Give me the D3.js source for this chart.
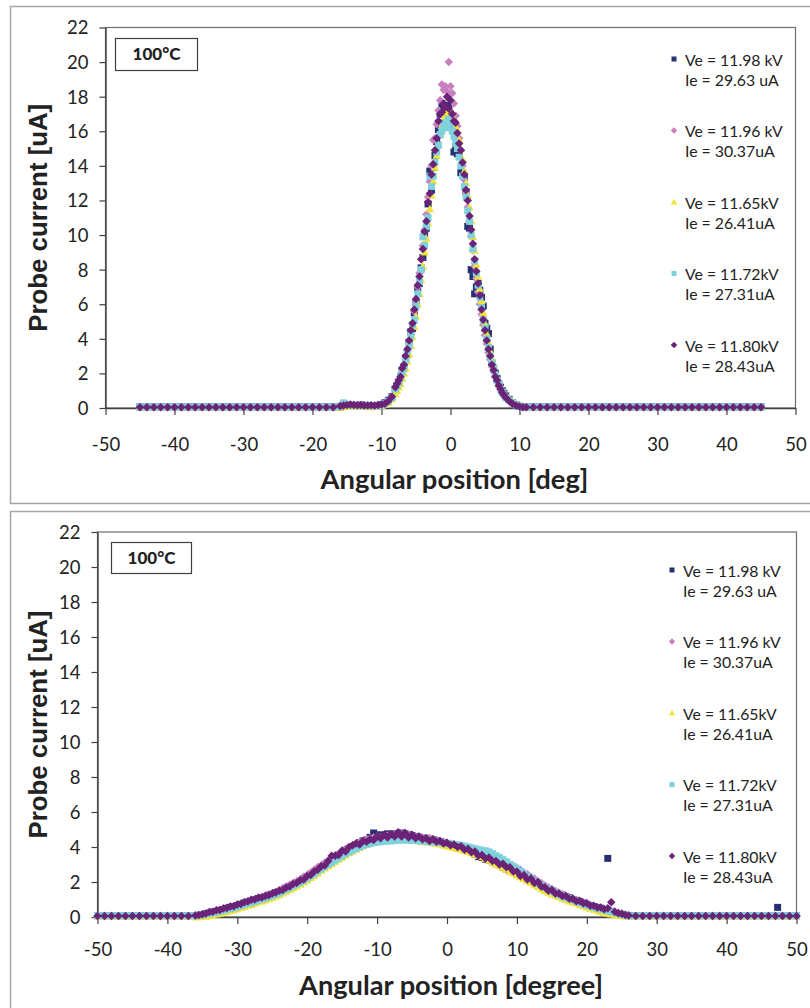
<!DOCTYPE html>
<html>
<head>
<meta charset="utf-8">
<script src="https://cdn.jsdelivr.net/npm/d3@7"></script>
<style>
  body { margin: 0; background: #fff; }
  svg text { font-family: Lato, "Open Sans", sans-serif; fill: #222; }
</style>
</head>
<body>
<div id="chart"></div>
<script>
// ---------- data ----------
var xTickValues = [-50, -40, -30, -20, -10, 0, 10, 20, 30, 40, 50];
var yTickValues = [0, 2, 4, 6, 8, 10, 12, 14, 16, 18, 20, 22];

var legendVe = ["Ve = 11.98 kV", "Ve = 11.96 kV", "Ve = 11.65kV", "Ve = 11.72kV", "Ve = 11.80kV"];
var legendIe = ["Ie = 29.63 uA", "Ie = 30.37uA", "Ie = 26.41uA", "Ie = 27.31uA", "Ie = 28.43uA"];

// top chart: flat part (all series sit on ~0)
var topBaseAngles = [-45, -44, -43, -42, -41, -40, -39, -38, -37, -36, -35, -34, -33, -32, -31, -30,
  -29, -28, -27, -26, -25, -24, -23, -22, -21, -20, -19, -18, -17,
  11, 12, 13, 14, 15, 16, 17, 18, 19, 20, 21, 22, 23, 24, 25, 26, 27, 28, 29, 30,
  31, 32, 33, 34, 35, 36, 37, 38, 39, 40, 41, 42, 43, 44, 45];
var topBaseLevel = [0.06, 0.05, 0.04, 0.06, 0.05];

// top chart: peak region
var topPeakAngles = [-16, -15.5, -15, -14.5, -14, -13.5, -13, -12.5, -12, -11.5, -11, -10.5, -10, -9.5, -9, -8.5,
  -8, -7.75, -7.5, -7.25, -7, -6.75, -6.5, -6.25, -6, -5.75, -5.5, -5.25, -5, -4.75, -4.5, -4.25,
  -4, -3.75, -3.5, -3.25, -3, -2.75, -2.5, -2.25, -2, -1.75, -1.5, -1.25, -1, -0.75, -0.5, -0.25,
  0, 0.25, 0.5, 0.75, 1, 1.25, 1.5, 1.75, 2, 2.25, 2.5, 2.75, 3, 3.25, 3.5, 3.75,
  4, 4.25, 4.5, 4.75, 5, 5.25, 5.5, 5.75, 6, 6.25, 6.5, 6.75, 7, 7.25, 7.5, 7.75, 8,
  8.5, 9, 9.5, 10, 10.5];

var topNavy = [0.06, 0.1, 0.14, 0.16, 0.15, 0.14, 0.17, 0.15, 0.13, 0.12, 0.14, 0.13, 0.2, 0.3, 0.45, 0.65,
  1.1, 1.3, 1.5, 1.8, 2.2, 2.3, 2.9, 3.1, 3.8, 4.4, 4.6, 5.5, 6.1, 6.9, 7.2, 8.1,
  8.7, 10.0, 10.4, 11.8, 13.7, 12.6, 13.9, 14.6, 15.4, 16.1, 17.0, 17.6, 17.3, 17.1, 16.8, 17.5,
  17.0, 16.2, 14.8, 15.1, 14.7, 14.7, 13.6, 13.6, 13.4, 12.5, 10.5, 10.4, 8.0, 7.6, 6.6, 7.0,
  7.2, 6.8, 6.4, 5.9, 4.9, 4.6, 4.3, 3.4, 2.6, 2.3, 2.0, 1.7, 1.4, 1.2, 1.0, 0.85, 0.7,
  0.5, 0.3, 0.18, 0.1, 0.06];
var topPink = [0.1, 0.14, 0.17, 0.16, 0.18, 0.17, 0.15, 0.16, 0.15, 0.14, 0.12, 0.15, 0.2, 0.26, 0.4, 0.6,
  1.0, 1.3, 1.5, 1.8, 2.1, 2.5, 2.9, 3.3, 3.8, 4.3, 4.9, 5.6, 6.2, 7.0, 7.8, 8.6,
  9.4, 10.3, 11.2, 12.2, 13.1, 14.0, 15.5, 15.6, 16.4, 17.2, 17.8, 18.7, 18.4, 18.6, 18.3, 20.0,
  18.6, 18.2, 17.6, 16.9, 16.3, 15.6, 14.9, 14.0, 13.2, 12.4, 11.6, 10.8, 9.9, 9.1, 8.2, 7.5,
  6.7, 6.0, 5.4, 4.8, 4.2, 3.7, 3.2, 2.8, 2.4, 2.1, 1.8, 1.5, 1.3, 1.1, 0.9, 0.75, 0.6,
  0.45, 0.3, 0.2, 0.12, 0.07];
var topYellow = [0.04, 0.06, 0.08, 0.1, 0.1, 0.08, 0.09, 0.1, 0.08, 0.06, 0.08, 0.1, 0.12, 0.2, 0.3, 0.5,
  0.8, 1.0, 1.2, 1.4, 1.7, 2.0, 2.3, 2.7, 3.1, 3.6, 4.1, 4.7, 5.3, 6.0, 6.6, 7.4,
  8.2, 9.0, 9.8, 10.7, 11.5, 12.3, 13.1, 13.9, 14.6, 15.2, 15.8, 16.3, 16.7, 17.0, 17.1, 17.2,
  17.1, 16.9, 16.6, 16.3, 16.0, 15.5, 15.0, 14.4, 13.7, 13.0, 12.3, 11.6, 10.8, 9.9, 9.1, 8.3,
  7.6, 6.9, 6.2, 5.5, 4.9, 4.3, 3.8, 3.3, 2.9, 2.5, 2.1, 1.8, 1.5, 1.3, 1.1, 0.9, 0.75,
  0.55, 0.38, 0.24, 0.14, 0.08];
var topCyan = [0.1, 0.3, 0.2, 0.15, 0.14, 0.15, 0.12, 0.14, 0.15, 0.13, 0.12, 0.14, 0.16, 0.25, 0.4, 0.6,
  1.1, 1.3, 1.5, 1.8, 2.1, 2.4, 2.8, 3.3, 3.6, 4.2, 4.8, 5.1, 5.9, 6.6, 7.3, 8.0,
  9.9, 9.4, 10.5, 11.0, 13.4, 12.8, 13.4, 14.2, 14.8, 15.2, 15.8, 16.0, 16.4, 16.5, 16.2, 16.7,
  16.4, 16.0, 15.7, 15.3, 15.0, 14.5, 14.0, 13.4, 12.8, 12.2, 11.4, 10.8, 10.0, 9.2, 8.5, 7.8,
  7.1, 6.4, 5.8, 5.1, 4.6, 4.0, 3.5, 3.0, 2.6, 2.3, 1.9, 1.6, 1.4, 1.1, 0.9, 0.8, 0.6,
  0.45, 0.3, 0.18, 0.1, 0.06];
var topPurple = [0.12, 0.15, 0.18, 0.2, 0.17, 0.16, 0.18, 0.15, 0.14, 0.16, 0.15, 0.18, 0.2, 0.25, 0.4, 0.65,
  1.2, 1.4, 1.6, 1.8, 2.3, 2.5, 3.0, 3.4, 3.9, 4.5, 4.9, 5.7, 6.3, 7.1, 7.6, 8.6,
  9.2, 10.2, 10.8, 11.9, 12.4, 13.5, 14.1, 14.9, 15.6, 16.6, 17.0, 17.1, 17.6, 17.4, 18.0, 17.3,
  17.8, 17.0, 16.6, 16.5, 15.9, 15.3, 14.9, 14.2, 13.5, 12.6, 12.0, 11.1, 10.3, 9.5, 8.6, 7.9,
  7.2, 6.5, 5.7, 5.1, 4.5, 3.9, 3.4, 3.0, 2.5, 2.2, 1.8, 1.6, 1.3, 1.1, 0.9, 0.75, 0.6,
  0.4, 0.25, 0.15, 0.09, 0.05];

// bottom chart: flat part
var bottomBaseAngles = [-50, -49, -48, -47, -46, -45, -44, -43, -42, -41, -40, -39, -38, -37,
  27, 28, 29, 30, 31, 32, 33, 34, 35, 36, 37, 38, 39, 40, 41, 42, 43, 44, 45, 46, 47, 48, 49, 50];
var bottomBaseLevel = [0.07, 0.06, 0.04, 0.08, 0.06];

// bottom chart: broad hump
var bottomPeakAngles = [-36, -35.5, -35, -34.5, -34, -33.5, -33, -32.5, -32, -31.5,
  -31, -30.5, -30, -29.5, -29, -28.5, -28, -27.5, -27, -26.5,
  -26, -25.5, -25, -24.5, -24, -23.5, -23, -22.5, -22, -21.5,
  -21, -20.5, -20, -19.5, -19, -18.5, -18, -17.5, -17, -16.5,
  -16, -15.5, -15, -14.5, -14, -13.5, -13, -12.5, -12, -11.5,
  -11, -10.5, -10, -9.5, -9, -8.5, -8, -7.5, -7, -6.5,
  -6, -5.5, -5, -4.5, -4, -3.5, -3, -2.5, -2, -1.5,
  -1, -0.5, 0, 0.5, 1, 1.5, 2, 2.5, 3, 3.5,
  4, 4.5, 5, 5.5, 6, 6.5, 7, 7.5, 8, 8.5,
  9, 9.5, 10, 10.5, 11, 11.5, 12, 12.5, 13, 13.5,
  14, 14.5, 15, 15.5, 16, 16.5, 17, 17.5, 18, 18.5,
  19, 19.5, 20, 20.5, 21, 21.5, 22, 22.5, 23, 23.5,
  24, 24.5, 25, 25.5, 26];

var bottomNavy = [0.05, 0.1, 0.12, 0.18, 0.22, 0.28, 0.32, 0.38, 0.42, 0.5,
  0.55, 0.58, 0.65, 0.72, 0.8, 0.85, 0.9, 0.98, 1.05, 1.1,
  1.15, 1.25, 1.3, 1.4, 1.45, 1.55, 1.65, 1.75, 1.85, 1.95,
  2.05, 2.2, 2.3, 2.45, 2.55, 2.7, 2.85, 3.0, 3.1, 3.25,
  3.4, 3.55, 3.65, 3.8, 3.9, 4.0, 4.1, 4.25, 4.35, 4.4,
  4.55, 4.8, 4.7, 4.65, 4.7, 4.75, 4.7, 4.75, 4.7, 4.8,
  4.75, 4.7, 4.65, 4.6, 4.55, 4.5, 4.5, 4.45, 4.4, 4.35,
  4.3, 4.25, 4.2, 4.1, 4.05, 4.0, 3.95, 3.85, 3.8, 3.7,
  3.6, 3.45, 3.4, 3.3, 3.25, 3.15, 3.05, 2.95, 2.85, 2.75,
  2.65, 2.55, 2.45, 2.35, 2.25, 2.15, 2.05, 1.95, 1.85, 1.75,
  1.65, 1.55, 1.45, 1.4, 1.3, 1.25, 1.15, 1.1, 1.0, 0.95,
  0.88, 0.8, 0.72, 0.65, 0.6, 0.55, 0.5, 0.42, 0.38, 0.32,
  0.26, 0.2, 0.15, 0.1, 0.07];
var bottomPink = [0.04, 0.07, 0.1, 0.14, 0.2, 0.26, 0.32, 0.38, 0.44, 0.5,
  0.56, 0.62, 0.68, 0.75, 0.82, 0.88, 0.95, 1.0, 1.08, 1.15,
  1.2, 1.28, 1.35, 1.45, 1.55, 1.65, 1.75, 1.85, 1.95, 2.05,
  2.15, 2.3, 2.4, 2.55, 2.7, 2.85, 2.95, 3.1, 3.25, 3.35,
  3.5, 3.6, 3.75, 3.9, 4.0, 4.1, 4.2, 4.3, 4.35, 4.45,
  4.5, 4.55, 4.6, 4.55, 4.6, 4.65, 4.6, 4.7, 4.65, 4.75,
  4.8, 4.7, 4.65, 4.6, 4.6, 4.55, 4.5, 4.5, 4.45, 4.4,
  4.35, 4.3, 4.25, 4.2, 4.15, 4.1, 4.05, 4.0, 3.95, 3.9,
  3.85, 3.75, 3.7, 3.6, 3.5, 3.45, 3.35, 3.25, 3.2, 3.1,
  3.0, 2.9, 2.8, 2.7, 2.55, 2.45, 2.3, 2.2, 2.05, 1.95,
  1.8, 1.7, 1.6, 1.5, 1.4, 1.3, 1.2, 1.12, 1.05, 0.98,
  0.9, 0.82, 0.75, 0.68, 0.62, 0.55, 0.5, 0.45, 0.4, 0.35,
  0.3, 0.25, 0.2, 0.14, 0.08];
var bottomYellow = [0.0, 0.0, 0.02, 0.03, 0.06, 0.1, 0.15, 0.2, 0.25, 0.3,
  0.35, 0.4, 0.45, 0.52, 0.58, 0.65, 0.7, 0.78, 0.85, 0.9,
  0.95, 1.02, 1.1, 1.18, 1.25, 1.35, 1.45, 1.55, 1.65, 1.75,
  1.85, 1.98, 2.1, 2.22, 2.35, 2.5, 2.65, 2.78, 2.9, 3.02,
  3.15, 3.28, 3.4, 3.52, 3.65, 3.75, 3.85, 3.95, 4.05, 4.12,
  4.2, 4.25, 4.3, 4.32, 4.35, 4.38, 4.4, 4.4, 4.42, 4.42,
  4.4, 4.4, 4.38, 4.35, 4.32, 4.3, 4.28, 4.25, 4.22, 4.18,
  4.15, 4.1, 4.05, 4.0, 3.95, 3.9, 3.85, 3.8, 3.72, 3.65,
  3.58, 3.5, 3.42, 3.32, 3.22, 3.12, 3.02, 2.92, 2.82, 2.72,
  2.6, 2.5, 2.38, 2.28, 2.18, 2.05, 1.95, 1.82, 1.72, 1.6,
  1.5, 1.4, 1.3, 1.22, 1.15, 1.05, 0.98, 0.9, 0.84, 0.78,
  0.7, 0.62, 0.55, 0.48, 0.42, 0.36, 0.3, 0.25, 0.2, 0.15,
  0.1, 0.07, 0.05, 0.04, 0.03];
var bottomCyan = [0.06, 0.1, 0.12, 0.16, 0.2, 0.24, 0.28, 0.33, 0.38, 0.43,
  0.48, 0.52, 0.58, 0.65, 0.72, 0.78, 0.82, 0.9, 0.96, 1.02,
  1.08, 1.15, 1.22, 1.3, 1.38, 1.48, 1.58, 1.68, 1.78, 1.88,
  1.98, 2.1, 2.22, 2.35, 2.48, 2.62, 2.75, 2.88, 3.0, 3.12,
  3.25, 3.38, 3.5, 3.62, 3.72, 3.82, 3.92, 4.0, 4.08, 4.15,
  4.2, 4.25, 4.28, 4.3, 4.32, 4.35, 4.35, 4.38, 4.38, 4.4,
  4.4, 4.4, 4.38, 4.38, 4.35, 4.35, 4.32, 4.3, 4.3, 4.28,
  4.25, 4.22, 4.2, 4.18, 4.15, 4.12, 4.1, 4.05, 4.0, 3.95,
  3.9, 3.85, 3.82, 3.78, 3.72, 3.62, 3.5, 3.4, 3.28, 3.15,
  3.0, 2.88, 2.75, 2.6, 2.45, 2.3, 2.18, 2.05, 1.92, 1.8,
  1.68, 1.58, 1.48, 1.38, 1.28, 1.2, 1.12, 1.05, 0.98, 0.9,
  0.82, 0.75, 0.68, 0.62, 0.56, 0.5, 0.45, 0.4, 0.35, 0.3,
  0.25, 0.2, 0.15, 0.1, 0.06];
var bottomPurple = [0.08, 0.12, 0.16, 0.2, 0.28, 0.3, 0.38, 0.4, 0.48, 0.52,
  0.6, 0.62, 0.72, 0.75, 0.85, 0.88, 0.98, 1.0, 1.1, 1.12,
  1.2, 1.25, 1.35, 1.4, 1.5, 1.55, 1.68, 1.75, 1.9, 1.95,
  2.1, 2.15, 2.35, 2.4, 2.6, 2.7, 2.9, 2.95, 3.2, 3.5,
  3.5, 3.55, 3.8, 3.75, 4.0, 4.1, 4.2, 4.15, 4.35, 4.3,
  4.45, 4.4, 4.6, 4.5, 4.7, 4.55, 4.75, 4.6, 4.85, 4.6,
  4.8, 4.55, 4.7, 4.5, 4.6, 4.45, 4.5, 4.35, 4.45, 4.3,
  4.35, 4.2, 4.25, 4.1, 4.15, 4.0, 4.05, 3.85, 3.9, 3.7,
  3.75, 3.5, 3.55, 3.35, 3.4, 3.2, 3.2, 3.0, 3.05, 2.85,
  2.85, 2.6, 2.6, 2.35, 2.4, 2.15, 2.2, 1.95, 2.0, 1.75,
  1.7, 1.5, 1.55, 1.35, 1.35, 1.2, 1.2, 1.05, 1.05, 0.9,
  0.92, 0.78, 0.78, 0.65, 0.65, 0.55, 0.55, 0.45, 0.5, 0.85,
  0.3, 0.22, 0.18, 0.12, 0.08];

// two stray navy points in the bottom chart
var bottomNavyExtraAngles = [23, 47.3];
var bottomNavyExtraValues = [3.35, 0.55];

// ---------- styles ----------
var seriesColors = ["#262f72", "#c97fbf", "#f2e33a", "#7fd2dc", "#6b2377"];
var seriesShapes = ["square", "diamond", "triangle", "square", "diamond"];
var markerSizes = { square: 7, diamond: 8.5, triangle: 8.5 };

var svgWidth = 810;
var svgHeight = 1008;

var svg = d3.select("#chart")
    .append("svg")
    .attr("width", svgWidth)
    .attr("height", svgHeight);

function markerPath(shape, s) {
    var h = s / 2;
    if (shape === "square") return `M${-h},${-h}h${s}v${s}h${-s}Z`;
    if (shape === "diamond") return `M0,${-h}L${h},0L0,${h}L${-h},0Z`;
    return `M0,${-h}L${h},${h * 0.75}L${-h},${h * 0.75}Z`;
}

// scale a text's font size so it fills a target width
function fitWidth(textSel, target) {
    var size = parseFloat(textSel.style("font-size"));
    var w = textSel.node().getComputedTextLength();
    if (w > 0) textSel.style("font-size", (size * target / w) + "px");
}

var panels = [
    {
        frame: { x: 10.5, y: 6.5, h: 497 },
        plot: { left: 105.5, right: 795.5, top: 27.5, bottom: 408 },
        tickLabelY: 445, titleY: 479, xTitle: "Angular position [deg]", xTitleW: 268,
        legendY: 60, legendX: 685,
        box: { x: 115.5, y: 38.5, w: 82, h: 32 },
        baseAngles: topBaseAngles, baseLevel: topBaseLevel,
        peakAngles: topPeakAngles,
        series: [topNavy, topPink, topYellow, topCyan, topPurple],
        extraAngles: [], extraValues: []
    },
    {
        frame: { x: 10.5, y: 511.5, h: 520 },
        plot: { left: 97.5, right: 796.5, top: 532, bottom: 917 },
        tickLabelY: 950, titleY: 985, xTitle: "Angular position [degree]", xTitleW: 304,
        legendY: 571, legendX: 683,
        box: { x: 111.5, y: 542.5, w: 80, h: 31 },
        baseAngles: bottomBaseAngles, baseLevel: bottomBaseLevel,
        peakAngles: bottomPeakAngles,
        series: [bottomNavy, bottomPink, bottomYellow, bottomCyan, bottomPurple],
        extraAngles: bottomNavyExtraAngles, extraValues: bottomNavyExtraValues
    }
];

panels.forEach(function(p) {
    var g = svg.append("g");

    // outer frame of each picture
    g.append("rect")
        .attr("x", p.frame.x).attr("y", p.frame.y)
        .attr("width", 820).attr("height", p.frame.h)
        .attr("fill", "none").attr("stroke", "#a6a6a6").attr("stroke-width", 1.5);

    var xScale = d3.scaleLinear().domain([-50, 50]).range([p.plot.left, p.plot.right]);
    var yScale = d3.scaleLinear().domain([0, 22]).range([p.plot.bottom, p.plot.top]);

    // plot area border
    g.append("rect")
        .attr("x", p.plot.left).attr("y", p.plot.top)
        .attr("width", p.plot.right - p.plot.left)
        .attr("height", p.plot.bottom - p.plot.top)
        .attr("fill", "none").attr("stroke", "#6e6e6e").attr("stroke-width", 1.2);

    // axes (plain hyphen for negatives, like the original)
    var plainFormat = d => String(d);
    var yAxis = g.append("g")
        .attr("transform", `translate(${p.plot.left},0)`)
        .call(d3.axisLeft(yScale).tickValues(yTickValues).tickFormat(plainFormat)
            .tickSize(6).tickPadding(11).tickSizeOuter(0));
    var xAxis = g.append("g")
        .attr("transform", `translate(0,${p.plot.bottom})`)
        .call(d3.axisBottom(xScale).tickValues(xTickValues).tickFormat(plainFormat)
            .tickSize(7).tickSizeOuter(0));

    [yAxis, xAxis].forEach(function(ax) {
        ax.select(".domain").attr("stroke", "#404040").attr("stroke-width", 1.4);
        ax.selectAll(".tick line").attr("stroke", "#404040").attr("stroke-width", 1.2);
        ax.selectAll("text")
            .style("font-size", "18.5px")
            .attr("fill", "#222");
    });
    yAxis.selectAll("text").attr("dy", "0.35em");
    xAxis.selectAll("text").attr("y", p.tickLabelY - p.plot.bottom).attr("dy", "0.35em");

    // markers, one series after another
    p.series.forEach(function(values, i) {
        var shape = seriesShapes[i];
        var pts = p.baseAngles.map(a => [a, p.baseLevel[i]])
            .concat(p.peakAngles.map((a, k) => [a, values[k]]));
        if (i === 0) {
            pts = pts.concat(p.extraAngles.map((a, k) => [a, p.extraValues[k]]));
        }
        g.append("g").selectAll("path")
            .data(pts.filter(d => d[1] != null))
            .enter()
            .append("path")
            .attr("transform", d => `translate(${xScale(d[0])},${yScale(d[1])})`)
            .attr("d", markerPath(shape, markerSizes[shape]))
            .attr("fill", seriesColors[i]);
    });

    // legend
    legendVe.forEach(function(label, i) {
        var y = p.legendY + i * 71.5;
        g.append("path")
            .attr("transform", `translate(${p.legendX - 11},${y - 1})`)
            .attr("d", markerPath(seriesShapes[i], seriesShapes[i] === "square" ? 5 : 6.5))
            .attr("fill", seriesColors[i]);
        g.append("text")
            .attr("x", p.legendX).attr("y", y).attr("dy", "0.35em")
            .style("font-size", "15.8px")
            .text(label);
        g.append("text")
            .attr("x", p.legendX).attr("y", y + 20).attr("dy", "0.35em")
            .style("font-size", "15.8px")
            .text(legendIe[i]);
    });

    // temperature box
    g.append("rect")
        .attr("x", p.box.x).attr("y", p.box.y)
        .attr("width", p.box.w).attr("height", p.box.h)
        .attr("fill", "#fff").attr("stroke", "#404040").attr("stroke-width", 1.2);
    g.append("text")
        .attr("x", p.box.x + p.box.w / 2).attr("y", p.box.y + p.box.h / 2)
        .attr("dy", "0.35em").attr("text-anchor", "middle")
        .style("font-size", "17px").style("font-weight", "900")
        .text("100°C");

    // axis titles
    var xt = g.append("text")
        .attr("x", (p.plot.left + p.plot.right) / 2 + 4).attr("y", p.titleY)
        .attr("dy", "0.35em").attr("text-anchor", "middle")
        .style("font-size", "23px").style("font-weight", "bold")
        .text(p.xTitle);
    fitWidth(xt, p.xTitleW);

    var yt = g.append("text")
        .attr("transform", `translate(38,${(p.plot.top + p.plot.bottom) / 2}) rotate(-90)`)
        .attr("dy", "0.35em").attr("text-anchor", "middle")
        .style("font-family", "'Liberation Sans', Arial, sans-serif")
        .style("font-size", "20px").style("font-weight", "bold")
        .text("Probe current [uA]");
    fitWidth(yt, 228);
});
</script>
</body>
</html>
